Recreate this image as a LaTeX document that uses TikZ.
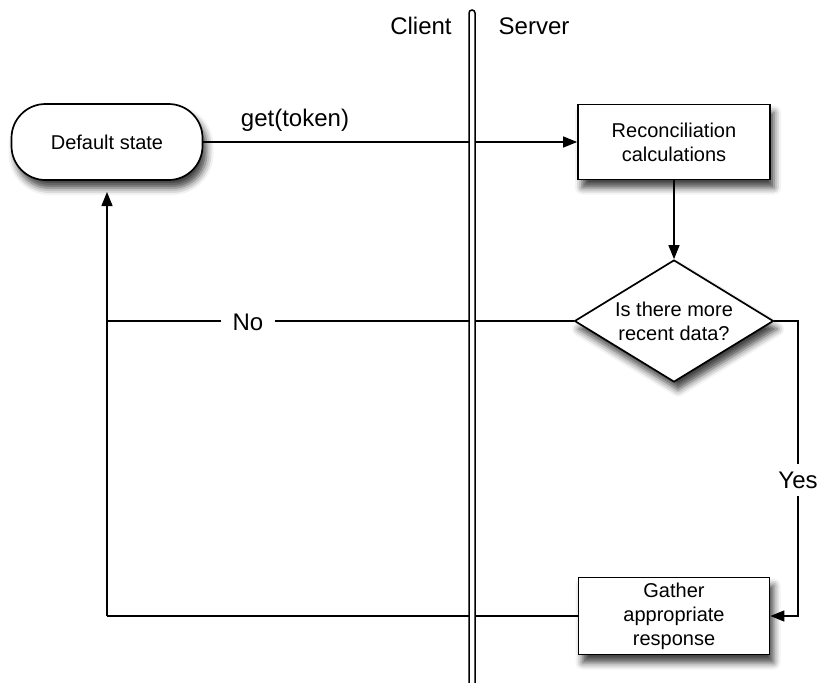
\documentclass[tikz,border=0pt]{standalone}
\usepackage{fontspec}
\setmainfont{Liberation Sans}
\usetikzlibrary{shapes.geometric,shadows.blur,arrows.meta}
\begin{document}
\begin{tikzpicture}[x=1pt,y=-1pt,
  box/.style={draw, line width=1.7pt, fill=white, font=\fontsize{20}{24}\selectfont, align=center, inner sep=0pt,
    blur shadow={shadow xshift=4pt, shadow yshift=-8pt, shadow blur radius=7pt, shadow opacity=75}},
  conn/.style={line width=1.3pt},
  arr/.style={conn, -{Triangle[length=14pt,width=11pt]}},
  lbl/.style={font=\fontsize{24}{28}\selectfont, fill=white, inner sep=3pt},
  bar/.style={line width=1.5pt, fill=white, rounded corners=3pt}]
\useasboundingbox (0,0) rectangle (820,683);

\node[box, rounded corners=34pt, minimum width=191pt, minimum height=76pt] (def) at (107,142) {Default state};
\node[box, minimum width=192pt, minimum height=75pt] (rec) at (674,142) {Reconciliation\\calculations};
\node[box, shape=diamond, aspect=1.64, minimum width=199pt, minimum height=122pt] (dec) at (674,321) {Is there more\\recent data?};
\node[box, minimum width=191pt, minimum height=77pt] (gat) at (674,616) {Gather\\appropriate\\response};

\coordinate (yr) at (798,321);
\coordinate (yb) at (798,616);
\coordinate (nl) at (107,321);
\coordinate (bl) at (107,616);
\coordinate (dt) at (107,192);

\draw[arr] (def.east) -- (rec.west);
\draw[arr] (rec.south) -- (dec.north);
\draw[arr] (dec.east) -- (yr) -- (yb) -- (gat.east);
\draw[conn] (gat.west) -- (bl);
\draw[conn] (dec.west) -- (nl);
\draw[arr] (bl) -- (dt);

\draw[bar] (469,700) -- (469,10) -- (475,10) -- (475,700);

\node[lbl, fill=none] (get) at (295,120) {get(token)};
\node[lbl, inner xsep=12pt] (no) at (248,322) {No};
\node[lbl, inner ysep=8pt] (yes) at (798,480) {Yes};
\node[lbl, fill=none] (cl) at (421,26) {Client};
\node[lbl, fill=none] (sv) at (534,26) {Server};
\end{tikzpicture}
\end{document}
